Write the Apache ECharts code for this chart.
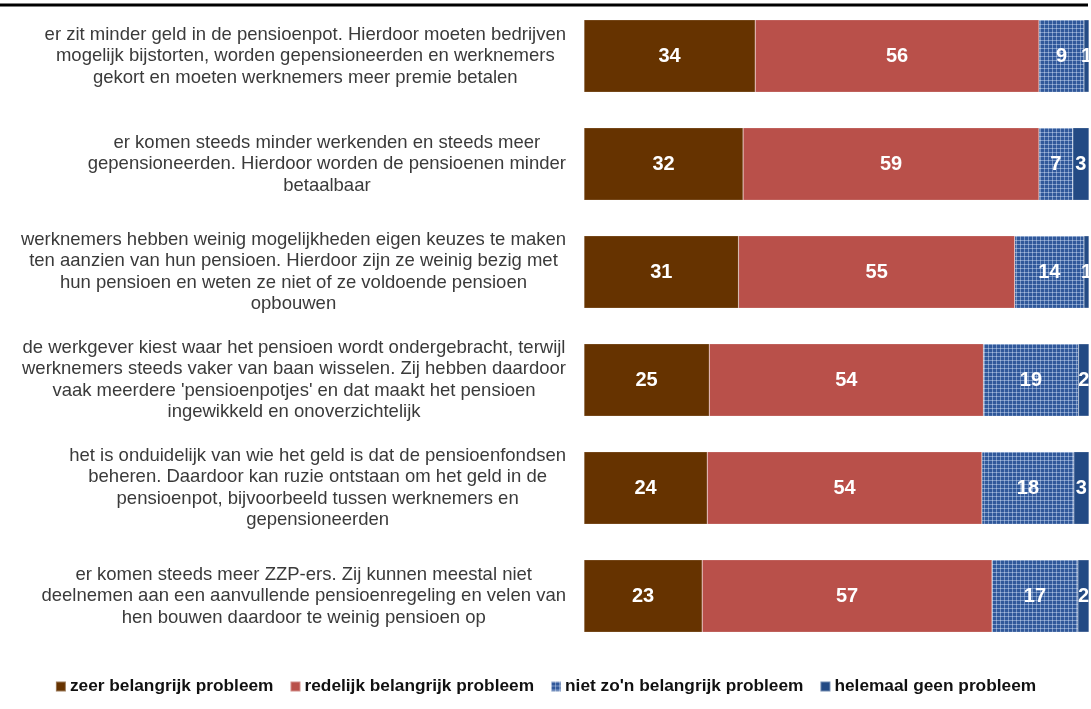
<!DOCTYPE html>
<html>
<head>
<meta charset="utf-8">
<script src="https://cdn.jsdelivr.net/npm/echarts@6/dist/echarts.min.js"></script>
<style>html,body{margin:0;padding:0;background:#fff}#c{width:1091px;height:709px}</style>
</head>
<body>
<div id="c"></div>
<script>
const categories = [
  "er zit minder geld in de pensioenpot. Hierdoor moeten bedrijven\nmogelijk bijstorten, worden gepensioneerden en werknemers\ngekort en moeten werknemers meer premie betalen",
  "er komen steeds minder werkenden en steeds meer\ngepensioneerden. Hierdoor worden de pensioenen minder\nbetaalbaar",
  "werknemers hebben weinig mogelijkheden eigen keuzes te maken\nten aanzien van hun pensioen. Hierdoor zijn ze weinig bezig met\nhun pensioen en weten ze niet of ze voldoende pensioen\nopbouwen",
  "de werkgever kiest waar het pensioen wordt ondergebracht, terwijl\nwerknemers steeds vaker van baan wisselen. Zij hebben daardoor\nvaak meerdere 'pensioenpotjes' en dat maakt het pensioen\ningewikkeld en onoverzichtelijk",
  "het is onduidelijk van wie het geld is dat de pensioenfondsen\nbeheren. Daardoor kan ruzie ontstaan om het geld in de\npensioenpot, bijvoorbeeld tussen werknemers en\ngepensioneerden",
  "er komen steeds meer ZZP-ers. Zij kunnen meestal niet\ndeelnemen aan een aanvullende pensioenregeling en velen van\nhen bouwen daardoor te weinig pensioen op"
];
const seriesNames = ["zeer belangrijk probleem", "redelijk belangrijk probleem", "niet zo'n belangrijk probleem", "helemaal geen probleem"];
// percentages (estimated unrounded shares; labels show rounded values)
const zeerBelangrijk = [33.9, 31.5, 30.6, 24.8, 24.4, 23.4];
const redelijkBelangrijk = [56.2, 58.6, 54.7, 54.3, 54.4, 57.4];
const nietZoBelangrijk = [8.9, 6.7, 13.7, 18.8, 18.2, 17.0];
const helemaalGeen = [1.0, 3.2, 1.0, 2.1, 3.0, 2.2];

// checkered pattern for series 3
const pc = document.createElement('canvas');
pc.width = 4; pc.height = 4;
const px = pc.getContext('2d');
px.fillStyle = '#30589a'; px.fillRect(0, 0, 4, 4);
px.fillStyle = '#7895c4';
px.fillRect(0, 0, 4, 1);
px.fillRect(0, 0, 1, 4);
px.fillStyle = '#a7bbdc';
px.fillRect(0, 0, 1, 1);
const patternColor = { image: pc, repeat: 'repeat' };

const colors = ['#663300', '#b9504a', patternColor, '#234a84'];
const values = [zeerBelangrijk, redelijkBelangrijk, nietZoBelangrijk, helemaalGeen];
const FONT = 'Liberation Sans, Arial, sans-serif';

const chart = echarts.init(document.getElementById('c'), null, { renderer: 'canvas' });
chart.setOption({
  animation: false,
  backgroundColor: '#ffffff',
  grid: { left: 584, right: 2, top: 2, bottom: 59, containLabel: false },
  xAxis: { type: 'value', min: 0, max: 100, show: false },
  yAxis: {
    type: 'category', inverse: true, data: categories,
    axisLine: { show: false }, axisTick: { show: false },
    axisLabel: {
      margin: 18, align: 'right',
      formatter: function (v) { return v.split('\n').map(l => '{c|' + l + '}').join('\n'); },
      rich: { c: { align: 'center', fontFamily: FONT, fontSize: 18.5, color: '#3a3a3a', lineHeight: 21.5 } }
    }
  },
  legend: {
    bottom: 9, left: 'center', itemWidth: 10, itemHeight: 10, itemGap: 16,
    icon: 'rect',
    textStyle: { fontFamily: FONT, fontSize: 17.3, fontWeight: 'bold', color: '#111', padding: [0, 0, 0, -1] },
    data: seriesNames
  },
  graphic: [{ type: 'line', shape: { x1: 0, y1: 5, x2: 1088, y2: 5 }, style: { stroke: '#000', lineWidth: 3 } }],
  series: seriesNames.map((n, i) => ({
    name: n, type: 'bar', stack: 'total', barCategoryGap: '33%',
    data: values[i],
    itemStyle: { color: colors[i], borderColor: 'rgba(255,255,255,0.35)', borderWidth: 0.5 },
    label: {
      show: true, position: 'inside', color: '#fff', fontFamily: FONT, fontSize: 20, fontWeight: 'bold',
      formatter: p => String(Math.round(p.value))
    }
  }))
});
</script>
</body>
</html>
